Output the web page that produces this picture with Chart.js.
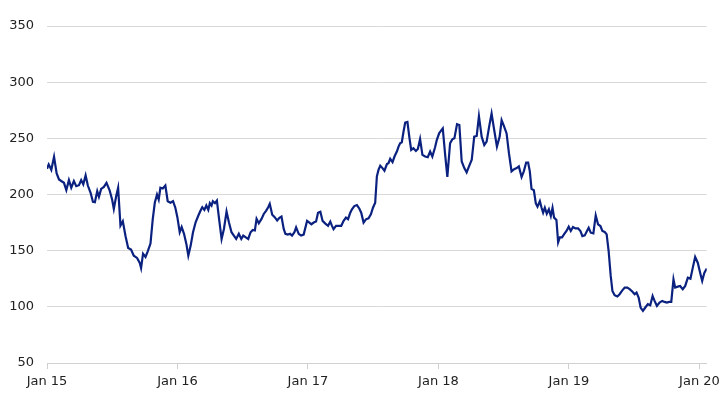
<!DOCTYPE html>
<html>
<head>
<meta charset="utf-8">
<script src="https://cdn.jsdelivr.net/npm/chart.js@4/dist/chart.umd.min.js"></script>
<style>
  html, body { margin: 0; padding: 0; background: #fff; }
  #wrap { width: 725px; height: 408px; }
</style>
</head>
<body>
<div id="wrap"><canvas id="chart"></canvas></div>
<script>
// years since Jan 2015 (roughly weekly)
const xYears = [
  0.000, 0.013, 0.033, 0.054, 0.074, 0.092, 0.109, 0.130, 0.148, 0.168,
  0.186, 0.206, 0.224, 0.245, 0.262, 0.278, 0.296, 0.313, 0.334, 0.352,
  0.367, 0.385, 0.398, 0.415, 0.436, 0.456, 0.479, 0.499, 0.512, 0.530,
  0.545, 0.563, 0.581, 0.602, 0.622, 0.644, 0.665, 0.690, 0.711, 0.721,
  0.736, 0.755, 0.772, 0.793, 0.810, 0.826, 0.843, 0.856, 0.869, 0.887,
  0.907, 0.925, 0.946, 0.966, 0.984,
  0.999, 1.017, 1.032, 1.050, 1.068, 1.083, 1.101, 1.119, 1.139, 1.160,
  1.177, 1.190, 1.206, 1.221, 1.236, 1.248, 1.261, 1.271, 1.287, 1.302,
  1.317, 1.338, 1.356, 1.376, 1.394, 1.414, 1.432, 1.450, 1.470, 1.489,
  1.504, 1.521, 1.542, 1.560, 1.577, 1.593, 1.606, 1.623, 1.644, 1.661,
  1.680, 1.695, 1.707, 1.726, 1.745, 1.764, 1.781, 1.797, 1.814, 1.827,
  1.845, 1.863, 1.878, 1.896, 1.909, 1.929, 1.947, 1.967,
  1.993, 2.011, 2.026, 2.044, 2.062, 2.077, 2.095, 2.112, 2.133, 2.154,
  2.171, 2.184, 2.196, 2.215, 2.235, 2.255, 2.273, 2.291, 2.307, 2.324,
  2.337, 2.355, 2.375, 2.393, 2.408, 2.426, 2.444, 2.464, 2.482, 2.498,
  2.515, 2.528, 2.541, 2.554, 2.571, 2.586, 2.605, 2.617, 2.630, 2.648,
  2.663, 2.681, 2.694, 2.706, 2.719, 2.732, 2.745, 2.762, 2.778, 2.791,
  2.808, 2.827, 2.842, 2.859, 2.877, 2.898, 2.918, 2.936, 2.953,
  2.974, 2.987, 3.005, 3.020, 3.033, 3.050, 3.068, 3.089, 3.106, 3.122,
  3.142, 3.160, 3.178, 3.198, 3.216, 3.234, 3.255, 3.274, 3.293, 3.310,
  3.331, 3.351, 3.369, 3.389, 3.407, 3.427, 3.448, 3.469, 3.484, 3.502,
  3.522, 3.540, 3.560, 3.580, 3.599, 3.616, 3.637, 3.654, 3.672, 3.687,
  3.700, 3.713, 3.731, 3.746, 3.759, 3.777, 3.790, 3.802, 3.815, 3.830,
  3.846, 3.861, 3.874, 3.886, 3.904, 3.917, 3.930, 3.947, 3.963,
  3.981, 3.998, 4.014, 4.031, 4.050, 4.070, 4.088, 4.103, 4.121, 4.138,
  4.151, 4.167, 4.187, 4.205, 4.223, 4.241, 4.256, 4.274, 4.289, 4.304,
  4.320, 4.333, 4.350, 4.371, 4.388, 4.406, 4.427, 4.447, 4.465, 4.485,
  4.503, 4.518, 4.534, 4.549, 4.567, 4.585, 4.605, 4.623, 4.641, 4.656,
  4.674, 4.694, 4.715, 4.732, 4.750, 4.768, 4.784, 4.801, 4.814, 4.834,
  4.852, 4.872, 4.891, 4.911, 4.931, 4.949, 4.967, 4.987, 5.008, 5.021,
  5.038, 5.056
];

const values = [
  222.9, 226.8, 222.0, 233.6, 218.7, 213.4, 212.0, 210.4, 203.9, 212.8,
  206.0, 212.0, 207.4, 208.3, 212.8, 209.0, 217.0, 208.0, 201.5, 193.5,
  193.2, 203.0, 198.0, 205.0, 206.8, 210.4, 204.0, 195.5, 187.2, 198.5,
  206.0, 172.3, 176.2, 162.8, 152.4, 151.0, 145.5, 143.5, 139.0, 134.5,
  147.3, 144.4, 149.4, 156.3, 177.7, 192.6, 200.0, 195.5, 206.0, 205.4,
  208.0, 194.0, 192.6, 194.0, 188.0,
  179.8, 166.4, 171.0, 165.0, 156.0, 145.5, 154.5, 166.4, 175.3, 181.3,
  185.7, 188.7, 186.3, 190.2, 186.3, 192.3, 190.2, 194.0, 192.3, 194.6,
  179.8, 160.4, 169.3, 184.8, 175.3, 166.4, 163.4, 160.4, 165.0, 160.4,
  163.4, 162.0, 160.4, 166.4, 168.5, 168.0, 178.3, 174.4, 178.3, 182.7,
  185.7, 188.7, 191.7, 182.0, 179.8, 176.8, 179.2, 180.4, 169.3, 165.0,
  164.3, 165.0, 163.4, 166.4, 170.8, 165.0, 163.4, 164.3,
  176.5, 175.0, 173.5, 175.0, 175.9, 183.8, 184.7, 176.5, 174.1, 172.1,
  175.9, 172.1, 169.1, 172.1, 172.1, 172.1, 176.5, 179.4, 178.0, 183.8,
  186.8, 189.7, 190.6, 187.6, 183.8, 175.0, 177.9, 178.8, 182.4, 188.2,
  192.6, 216.2, 222.1, 225.6, 223.5, 221.2, 227.1, 227.9, 231.8, 228.8,
  233.8, 238.2, 242.6, 245.6, 246.5, 255.9, 264.1, 264.7, 250.0, 239.7,
  241.2, 238.8, 240.6, 249.4, 235.3, 233.8, 233.2, 238.2, 233.8,
  242.0, 248.5, 254.4, 256.8, 258.8, 236.8, 215.6, 245.6, 249.1, 250.0,
  262.6, 261.8, 229.4, 223.5, 219.7, 225.0, 230.9, 251.5, 252.1, 269.7,
  251.5, 244.1, 247.1, 260.9, 272.1, 257.4, 242.6, 251.5, 266.2, 260.9,
  254.4, 236.8, 220.6, 222.6, 223.5, 225.0, 215.6, 220.6, 228.5, 228.5,
  220.6, 205.0, 203.8, 192.1, 189.1, 194.1, 188.2, 183.8, 188.2, 182.9,
  186.8, 180.9, 188.2, 179.4, 177.4, 157.4, 161.8, 161.8, 164.7,
  167.5, 171.3, 167.5, 171.0, 169.8, 169.8, 167.5, 163.0, 163.6, 167.5,
  170.4, 166.0, 165.4, 181.4, 173.4, 171.9, 167.5, 166.6, 164.5, 149.7,
  127.5, 114.2, 110.3, 109.2, 111.2, 114.2, 117.1, 117.1, 115.7, 113.6,
  111.2, 112.7, 108.3, 99.4, 96.4, 99.4, 102.4, 101.5, 109.7, 105.3,
  100.9, 103.8, 105.3, 104.4, 103.8, 104.4, 104.4, 124.5, 117.1, 118.0,
  118.6, 115.7, 118.6, 126.0, 125.1, 134.9, 144.4, 139.3, 129.0, 123.1,
  130.5, 134.0
];

const startYear = 2015;
const tickYears = [2015, 2016, 2017, 2018, 2019, 2020];
const yTicks = [50, 100, 150, 200, 250, 300, 350];

const points = xYears.map((t, i) => ({ x: startYear + t, y: values[i] }));

new Chart(document.getElementById("chart"), {
  type: "line",
  data: {
    datasets: [{
      data: points,
      borderColor: "#0b2180",
      borderWidth: 2.2,
      pointRadius: 0,
      tension: 0,
      fill: false
    }]
  },
  options: {
    responsive: true,
    maintainAspectRatio: false,
    animation: false,
    layout: { padding: { top: 26, right: 17, bottom: 0, left: 0 } },
    plugins: { legend: { display: false }, tooltip: { enabled: false } },
    scales: {
      x: {
        type: "linear",
        min: startYear,
        max: startYear + 5.056,
        afterBuildTicks: s => { s.ticks = tickYears.map(v => ({ value: v })); },
        afterFit: s => { s.height = 45; },
        grid: { drawOnChartArea: false, color: "#d0d0d0", tickLength: 6 },
        border: { color: "#d0d0d0" },
        ticks: {
          color: "#222",
          font: { family: "DejaVu Sans", size: 13 },
          padding: 5,
          maxRotation: 0,
          callback: v => "Jan " + String(v).slice(2)
        }
      },
      y: {
        min: 50,
        max: 350,
        afterBuildTicks: s => { s.ticks = yTicks.map(v => ({ value: v })); },
        afterFit: s => { s.width = 47; },
        grid: { color: "#d9d9d9", drawTicks: false },
        border: { display: false },
        ticks: {
          color: "#222",
          font: { family: "DejaVu Sans", size: 13 },
          padding: 13
        }
      }
    }
  }
});
</script>
</body>
</html>
